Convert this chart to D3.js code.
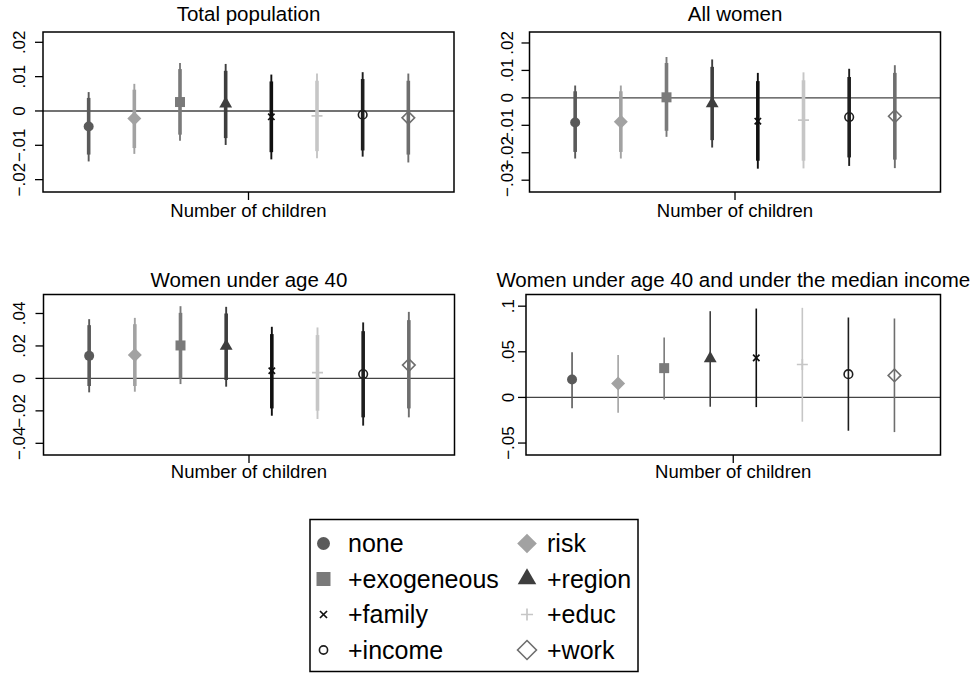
<!DOCTYPE html>
<html>
<head>
<meta charset="utf-8">
<script src="https://cdn.jsdelivr.net/npm/d3@7"></script>
<style>
  body { margin: 0; background: #fff; }
  svg { display: block; }
  text { font-family: "Liberation Sans", Arial, Helvetica, sans-serif; fill: #000; }
</style>
</head>
<body>
<svg id="chart" width="979" height="673"></svg>
<script>
// Model specifications (one marker per specification)
const seriesNames = ["none", "risk", "+exogeneous", "+region", "+family", "+educ", "+income", "+work"];

// Panel titles
const panelTitles = ["Total population", "All women", "Women under age 40",
                     "Women under age 40 and under the median income"];
const xAxisLabel = "Number of children";

// Total population: point estimates, 90% and 95% intervals
const totalEst  = [-0.0045, -0.0022, 0.0026, 0.0021, -0.0017, -0.0014, -0.0011, -0.0020];
const totalLo90 = [-0.0127, -0.0108, -0.0069, -0.0079, -0.0120, -0.0117, -0.0115, -0.0127];
const totalHi90 = [0.0038, 0.0062, 0.0122, 0.0117, 0.0086, 0.0088, 0.0093, 0.0088];
const totalLo95 = [-0.0147, -0.0125, -0.0087, -0.0099, -0.0141, -0.0138, -0.0133, -0.0150];
const totalHi95 = [0.0055, 0.0079, 0.0140, 0.0137, 0.0106, 0.0109, 0.0113, 0.0109];

// All women
const womenEst  = [-0.0090, -0.0087, 0.0002, -0.0021, -0.0085, -0.0081, -0.0070, -0.0067];
const womenLo90 = [-0.0197, -0.0197, -0.0120, -0.0154, -0.0229, -0.0229, -0.0217, -0.0225];
const womenHi90 = [0.0024, 0.0024, 0.0127, 0.0113, 0.0061, 0.0064, 0.0076, 0.0091];
const womenLo95 = [-0.0221, -0.0221, -0.0142, -0.0181, -0.0258, -0.0257, -0.0248, -0.0256];
const womenHi95 = [0.0045, 0.0045, 0.0149, 0.0140, 0.0091, 0.0093, 0.0106, 0.0119];

// Women under age 40
const under40Est  = [0.0139, 0.0144, 0.0203, 0.0199, 0.0047, 0.0035, 0.0027, 0.0082];
const under40Lo90 = [-0.0047, -0.0047, 0.0000, -0.0010, -0.0185, -0.0199, -0.0240, -0.0185];
const under40Hi90 = [0.0328, 0.0334, 0.0404, 0.0400, 0.0273, 0.0267, 0.0291, 0.0359];
const under40Lo95 = [-0.0086, -0.0082, -0.0035, -0.0051, -0.0230, -0.0250, -0.0291, -0.0240];
const under40Hi95 = [0.0365, 0.0373, 0.0445, 0.0441, 0.0318, 0.0314, 0.0345, 0.0410];

// Women under age 40 and under the median income (single interval)
const lowIncEst = [0.0197, 0.0153, 0.0321, 0.0427, 0.0434, 0.0361, 0.0255, 0.0241];
const lowIncLo  = [-0.0120, -0.0168, -0.0022, -0.0102, -0.0106, -0.0266, -0.0365, -0.0380];
const lowIncHi  = [0.0496, 0.0464, 0.0657, 0.0945, 0.0974, 0.0982, 0.0876, 0.0865];

// Y-axis ticks and their labels
const totalTicks = [-0.02, -0.01, 0, 0.01, 0.02];
const totalTickLabels = ["\u2212.02", "\u2212.01", "0", ".01", ".02"];
const womenTicks = [-0.03, -0.02, -0.01, 0, 0.01, 0.02];
const womenTickLabels = ["\u2212.03", "\u2212.02", "\u2212.01", "0", ".01", ".02"];
const under40Ticks = [-0.04, -0.02, 0, 0.02, 0.04];
const under40TickLabels = ["\u2212.04", "\u2212.02", "0", ".02", ".04"];
const lowIncTicks = [-0.05, 0, 0.05, 0.1];
const lowIncTickLabels = ["\u2212.05", "0", ".05", ".1"];

// Styling per specification
const seriesColor = ["#5a5a5a", "#a2a2a2", "#7a7a7a", "#3e3e3e", "#101010", "#c6c6c6", "#1e1e1e", "#6e6e6e"];
const seriesShape = ["circle", "diamond", "square", "triangle", "times", "plus", "ocircle", "odiamond"];

const svg = d3.select("#chart");

// Marker generator: dims are in pixels (k scales them)
function markerPath(shape, k) {
  const sym = d3.symbol();
  switch (shape) {
    case "circle":   return sym.type(d3.symbolCircle).size(Math.PI * Math.pow(5 * k, 2))();
    case "ocircle":  return sym.type(d3.symbolCircle).size(Math.PI * Math.pow(4.3 * k, 2))();
    case "square":   return sym.type(d3.symbolSquare).size(Math.pow(10 * k, 2))();
    case "diamond":  return sym.type(d3.symbolDiamond2).size(Math.pow(7 * k / 0.62625, 2))();
    case "odiamond": return sym.type(d3.symbolDiamond2).size(Math.pow(6.3 * k / 0.62625, 2))();
    case "triangle": { const y = 3.7 * k; return sym.type(d3.symbolTriangle).size(y * y * 3 * Math.sqrt(3))(); }
    case "times":    { const r = 3.2 * k; return sym.type(d3.symbolTimes).size(Math.pow(r / 0.6189, 2) + 1.7)(); }
    case "plus":     { const r = 5.5 * k; return sym.type(d3.symbolPlus).size(Math.pow(r / 0.87559, 2) + 2)(); }
  }
}

function drawMarker(g, shape, color, x, y, k) {
  const hollow = shape === "ocircle" || shape === "odiamond";
  const stroked = shape === "times" || shape === "plus";
  g.append("path")
    .attr("d", markerPath(shape, k))
    .attr("transform", `translate(${x},${y})`)
    .attr("fill", hollow || stroked ? "none" : color)
    .attr("stroke", hollow || stroked ? color : "none")
    .attr("stroke-width", stroked ? 1.7 : 1.6);
}

const panels = [
  { title: panelTitles[0], est: totalEst, lo90: totalLo90, hi90: totalHi90, lo95: totalLo95, hi95: totalHi95,
    domain: [-0.0236, 0.0230], ticks: totalTicks, tickLabels: totalTickLabels,
    box: { x0: 43, x1: 454, y0: 32, y1: 192 }, labelX: 25, titleY: 21, axisTitleY: 217 },
  { title: panelTitles[1], est: womenEst, lo90: womenLo90, hi90: womenHi90, lo95: womenLo95, hi95: womenHi95,
    domain: [-0.0343, 0.0240], ticks: womenTicks, tickLabels: womenTickLabels,
    box: { x0: 529.5, x1: 940.5, y0: 32, y1: 192 }, labelX: 513, titleY: 21, axisTitleY: 217 },
  { title: panelTitles[2], est: under40Est, lo90: under40Lo90, hi90: under40Hi90, lo95: under40Lo95, hi95: under40Hi95,
    domain: [-0.0472, 0.0517], ticks: under40Ticks, tickLabels: under40TickLabels,
    box: { x0: 43.5, x1: 454.5, y0: 294.5, y1: 455 }, labelX: 25, titleY: 287, axisTitleY: 478 },
  { title: panelTitles[3], est: lowIncEst, lo90: null, hi90: null, lo95: lowIncLo, hi95: lowIncHi,
    domain: [-0.0631, 0.1128], ticks: lowIncTicks, tickLabels: lowIncTickLabels,
    box: { x0: 526, x1: 940.5, y0: 294.5, y1: 455 }, labelX: 514, titleY: 287, axisTitleY: 478 }
];

panels.forEach(p => {
  const g = svg.append("g");
  const b = p.box;
  const x = d3.scaleLinear().domain([0, seriesNames.length + 1]).range([b.x0, b.x1]);
  const y = d3.scaleLinear().domain(p.domain).range([b.y1, b.y0]);
  const cx = (b.x0 + b.x1) / 2;

  // title
  g.append("text").attr("x", cx).attr("y", p.titleY)
    .attr("text-anchor", "middle").attr("font-size", 20.5).text(p.title);

  // zero reference line
  g.append("line").attr("x1", b.x0).attr("x2", b.x1)
    .attr("y1", y(0)).attr("y2", y(0))
    .attr("stroke", "#444").attr("stroke-width", 1.4);

  // intervals and point estimates
  seriesNames.forEach((name, i) => {
    const px = x(i + 1);
    const col = seriesColor[i];
    g.append("line").attr("x1", px).attr("x2", px)
      .attr("y1", y(p.lo95[i])).attr("y2", y(p.hi95[i]))
      .attr("stroke", col).attr("stroke-width", p.lo90 ? 1.9 : 1.6);
    if (p.lo90) {
      g.append("line").attr("x1", px).attr("x2", px)
        .attr("y1", y(p.lo90[i])).attr("y2", y(p.hi90[i]))
        .attr("stroke", col).attr("stroke-width", 3.6);
    }
    drawMarker(g, seriesShape[i], col, px, y(p.est[i]), 1);
  });

  // plot frame
  g.append("rect").attr("x", b.x0).attr("y", b.y0)
    .attr("width", b.x1 - b.x0).attr("height", b.y1 - b.y0)
    .attr("fill", "none").attr("stroke", "#000").attr("stroke-width", 1.5);

  // y ticks with rotated labels
  p.ticks.forEach((t, j) => {
    g.append("line").attr("x1", b.x0 - 8).attr("x2", b.x0)
      .attr("y1", y(t)).attr("y2", y(t))
      .attr("stroke", "#000").attr("stroke-width", 1.3);
    g.append("text")
      .attr("transform", `translate(${p.labelX},${y(t)}) rotate(-90)`)
      .attr("text-anchor", "middle").attr("font-size", 17)
      .text(p.tickLabels[j]);
  });

  // single x tick at the centre, labelled by the regressor name
  g.append("line").attr("x1", cx).attr("x2", cx)
    .attr("y1", b.y1).attr("y2", b.y1 + 8)
    .attr("stroke", "#000").attr("stroke-width", 1.3);
  g.append("text").attr("x", cx).attr("y", p.axisTitleY)
    .attr("text-anchor", "middle").attr("font-size", 18.5).text(xAxisLabel);
});

// Legend
const legend = svg.append("g");
legend.append("rect").attr("x", 310).attr("y", 519.5).attr("width", 328).attr("height", 152)
  .attr("fill", "#fff").attr("stroke", "#000").attr("stroke-width", 1.5);
const legendRowY = d3.scalePoint().domain([0, 1, 2, 3]).range([552, 658.5]);
const legendColX = [{ sym: 323.5, txt: 348 }, { sym: 527, txt: 547 }];
seriesNames.forEach((name, i) => {
  const row = Math.floor(i / 2), col = i % 2;
  const by = legendRowY(row);
  const k = { circle: 1.3, diamond: 1.4, square: 1.4, triangle: 1.45, times: 1.1, plus: 1.1, ocircle: 0.95, odiamond: 1.5 }[seriesShape[i]];
  drawMarker(legend, seriesShape[i], seriesColor[i], legendColX[col].sym, by - 8.5, k);
  legend.append("text").attr("x", legendColX[col].txt).attr("y", by)
    .attr("font-size", 25).text(name);
});
</script>
</body>
</html>
